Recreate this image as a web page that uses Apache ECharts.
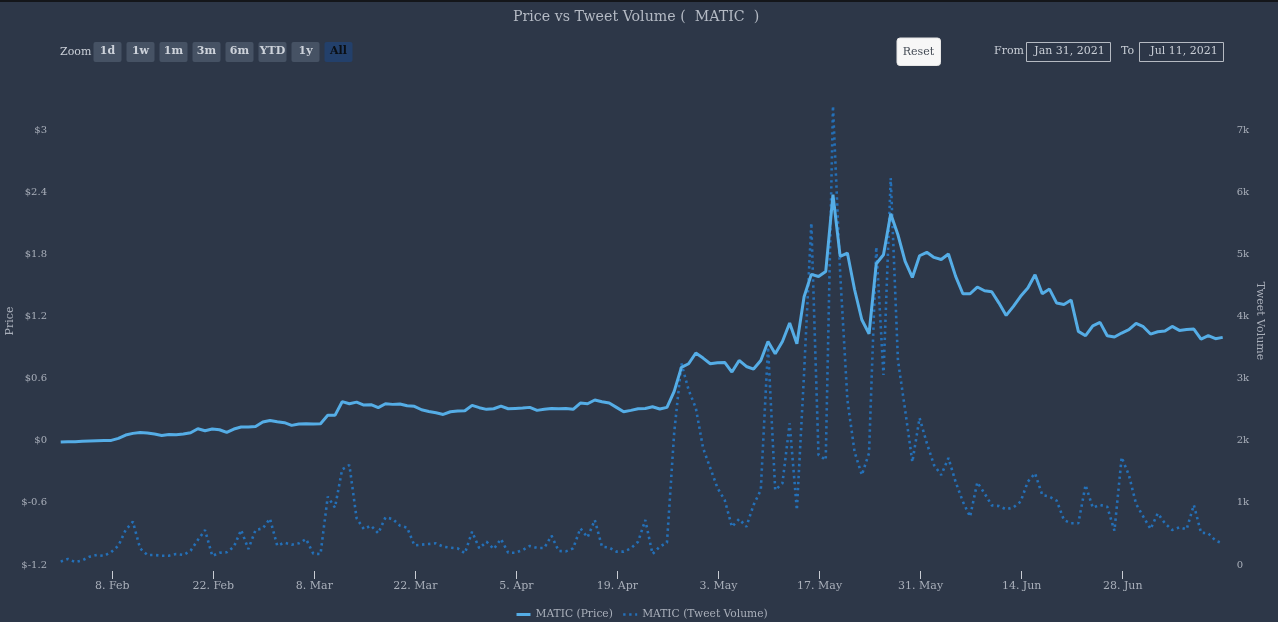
<!DOCTYPE html>
<html>
<head>
<meta charset="utf-8">
<style>
  html, body { margin: 0; padding: 0; background: #2d3748; }
  #chart { width: 1278px; height: 622px; }
</style>
<script src="https://cdn.jsdelivr.net/npm/echarts@6/dist/echarts.min.js"></script>
</head>
<body>
<div id="chart"></div>
<script>
// daily closes, Jan 31 to Jul 11 2021
var priceValues = [
  -0.013, -0.010, -0.010, -0.006, -0.003, 0.000, 0.003, 0.003, 0.023, 0.055,
  0.071, 0.080, 0.074, 0.064, 0.051, 0.061, 0.058, 0.064, 0.077, 0.116,
  0.097, 0.113, 0.106, 0.080, 0.113, 0.132, 0.132, 0.138, 0.180, 0.196,
  0.183, 0.174, 0.148, 0.161, 0.164, 0.161, 0.164, 0.245, 0.245, 0.377,
  0.357, 0.373, 0.344, 0.348, 0.319, 0.357, 0.351, 0.354, 0.338, 0.332,
  0.299, 0.283, 0.270, 0.254, 0.280, 0.286, 0.290, 0.341, 0.319, 0.303,
  0.309, 0.335, 0.309, 0.312, 0.315, 0.322, 0.293, 0.303, 0.312, 0.309,
  0.312, 0.303, 0.364, 0.357, 0.393, 0.377, 0.364, 0.322, 0.280, 0.293,
  0.309, 0.312, 0.328, 0.306, 0.322, 0.476, 0.708, 0.743, 0.847, 0.798,
  0.743, 0.753, 0.756, 0.663, 0.775, 0.717, 0.692, 0.775, 0.958, 0.840,
  0.958, 1.136, 0.936, 1.390, 1.606, 1.586, 1.635, 2.375, 1.780, 1.812,
  1.458, 1.168, 1.033, 1.709, 1.796, 2.192, 1.989, 1.731, 1.577, 1.786,
  1.819, 1.770, 1.750, 1.803, 1.587, 1.419, 1.419, 1.484, 1.448, 1.439,
  1.329, 1.210, 1.297, 1.394, 1.474, 1.603, 1.419, 1.464, 1.329, 1.316,
  1.358, 1.056, 1.014, 1.110, 1.143, 1.014, 1.001, 1.040, 1.072, 1.133,
  1.101, 1.030, 1.052, 1.059, 1.104, 1.065, 1.075, 1.078, 0.982, 1.014,
  0.985, 0.998
];
var tweetValues = [
  54, 97, 48, 75, 134, 161, 145, 209, 311, 563,
  697, 268, 161, 161, 150, 150, 177, 161, 231, 402,
  563, 145, 198, 204, 295, 563, 257, 563, 590, 746,
  311, 359, 327, 349, 418, 182, 177, 1100, 923, 1539,
  1609, 751, 579, 633, 510, 767, 740, 633, 601, 316,
  327, 338, 349, 295, 279, 268, 188, 536, 268, 375,
  257, 418, 198, 198, 241, 306, 274, 274, 472, 225,
  220, 268, 590, 445, 724, 295, 279, 215, 215, 268,
  375, 724, 177, 295, 359, 2124, 3246, 2816, 2527, 1883,
  1561, 1239, 1046, 616, 740, 616, 966, 1207, 3508, 1207,
  1315, 2280, 885, 3090, 5504, 1770, 1690, 7387, 4699, 2655,
  1818, 1448, 1802, 5117, 3058, 6228, 3299, 2494, 1658, 2366,
  1963, 1609, 1448, 1722, 1336, 1019, 778, 1330, 1153, 960,
  949, 896, 928, 1019, 1341, 1475, 1126, 1100, 1035, 724,
  671, 671, 1287, 923, 966, 939, 552, 1733, 1448, 982,
  778, 579, 831, 671, 563, 606, 574, 966, 520, 510,
  392, 349
];
var tickDates = ['2021-02-08', '2021-02-22', '2021-03-08', '2021-03-22', '2021-04-05', '2021-04-19',
  '2021-05-03', '2021-05-17', '2021-05-31', '2021-06-14', '2021-06-28'];
var zoomButtons = ['1d', '1w', '1m', '3m', '6m', 'YTD', '1y', 'All'];
var monthNames = ['Jan', 'Feb', 'Mar', 'Apr', 'May', 'Jun', 'Jul'];

var DAY = 86400000;
var firstPoint = Date.UTC(2021, 0, 31, 20, 30);
var priceData = [], tweetData = [];
for (var i = 0; i < priceValues.length; i++) {
  priceData.push([firstPoint + i * DAY, priceValues[i]]);
  tweetData.push([firstPoint + i * DAY, tweetValues[i]]);
}
var tickTimes = tickDates.map(function (d) { return new Date(d + 'T00:00:00Z').getTime(); });

var SERIF = '"DejaVu Serif", serif';
var LABEL = '#a9afba';
var BTN_TXT = '#cdd2da';

function txt(x, y, s, color, size, weight, align) {
  return { type: 'text', x: x, y: y, silent: true, style: {
    text: s, fill: color, font: (weight || 'normal') + ' ' + (size || 11) + 'px ' + SERIF,
    textAlign: align || 'center', textVerticalAlign: 'middle' } };
}
function box(x, y, w, h, fill, stroke, r) {
  return { type: 'rect', x: x, y: y, silent: true, shape: { width: w, height: h, r: r || 0 },
    style: { fill: fill, stroke: stroke || null, lineWidth: stroke ? 1 : 0 } };
}

var controls = [box(0, 0, 1278, 2, '#14161a')];
controls.push(txt(60, 52, 'Zoom', '#c9ced6', 11, 'normal', 'left'));
zoomButtons.forEach(function (b, n) {
  var x = 93.5 + n * 33;
  var on = b === 'All';
  controls.push(box(x, 42, 28, 20, on ? '#23406b' : '#465264', null, 2));
  controls.push(txt(x + 14, 51.5, b, on ? '#0b0f14' : BTN_TXT, 11, 'bold'));
});
controls.push(box(897, 38, 43.5, 27.5, '#f7f7f7', '#e6e6e6', 3));
controls.push(txt(918.5, 52.5, 'Reset', '#444b55', 11));
controls.push(txt(994, 51.5, 'From', '#c9ced6', 11, 'normal', 'left'));
controls.push(box(1026.5, 42.5, 84, 19, 'transparent', '#b5bac2'));
controls.push(txt(1069.5, 51.5, 'Jan 31, 2021', '#c9ced6', 11));
controls.push(txt(1121, 51.5, 'To', '#c9ced6', 11, 'normal', 'left'));
controls.push(box(1139.5, 42.5, 84, 19, 'transparent', '#b5bac2'));
controls.push(txt(1184, 51.5, 'Jul 11, 2021', '#c9ced6', 11));

// axis titles, the built-in name kept landing against the window edge
var priceName = txt(10, 321, 'Price', LABEL, 11);
priceName.rotation = Math.PI / 2;
var tweetName = txt(1260, 321, 'Tweet Volume', LABEL, 11);
tweetName.rotation = -Math.PI / 2;
controls.push(priceName, tweetName);

var chart = echarts.init(document.getElementById('chart'));
chart.setOption({
  animation: false,
  backgroundColor: '#2d3748',
  textStyle: { fontFamily: SERIF },
  title: {
    text: 'Price vs Tweet Volume (  MATIC  )',
    left: 508, top: 5,
    textStyle: { color: '#b4bac4', fontSize: 14.2, fontWeight: 'normal', fontFamily: SERIF }
  },
  legend: {
    top: 604, left: 510, itemWidth: 14, itemHeight: 3, itemGap: 9,
    itemStyle: { opacity: 0 },
    textStyle: { color: LABEL, fontSize: 10.7, fontFamily: SERIF },
    data: [
      { name: 'MATIC (Price)', lineStyle: { width: 3 } },
      { name: 'MATIC (Tweet Volume)', lineStyle: { width: 2.6 } }
    ]
  },
  grid: { left: 60.7, right: 55.3, top: 67.9, bottom: 57, outerBoundsMode: 'none' },
  xAxis: {
    type: 'value',
    min: priceData[0][0],
    max: priceData[priceData.length - 1][0],
    offset: 6,
    axisLine: { show: false, onZero: false },
    splitLine: { show: false },
    axisTick: { show: true, length: 8, customValues: tickTimes, lineStyle: { color: '#c8ccd3', width: 1 } },
    axisLabel: {
      color: LABEL, fontSize: 11, margin: 9.5, customValues: tickTimes, hideOverlap: false,
      formatter: function (v) {
        var d = new Date(v);
        return d.getUTCDate() + '. ' + monthNames[d.getUTCMonth()];
      }
    }
  },
  yAxis: [
    {
      type: 'value', min: -1.2, max: 3.6, interval: 0.6,
      axisLine: { show: false }, axisTick: { show: false }, splitLine: { show: false },
      axisLabel: {
        color: LABEL, fontSize: 10, margin: 13.7, showMaxLabel: false,
        formatter: function (v) { return '$' + (+v.toFixed(1)); }
      }
    },
    {
      type: 'value', min: 0, max: 8000, interval: 1000, position: 'right',
      axisLine: { show: false }, axisTick: { show: false }, splitLine: { show: false },
      axisLabel: {
        color: LABEL, fontSize: 10, margin: 14, showMaxLabel: false,
        formatter: function (v) { return v === 0 ? '0' : (v / 1000) + 'k'; }
      }
    }
  ],
  series: [
    {
      name: 'MATIC (Tweet Volume)', type: 'line', yAxisIndex: 1, data: tweetData,
      symbol: 'none', z: 2,
      lineStyle: { color: '#2470b8', width: 2.6, type: [2.4, 3.6] },
      itemStyle: { color: '#2470b8' }
    },
    {
      name: 'MATIC (Price)', type: 'line', yAxisIndex: 0, data: priceData,
      symbol: 'none', z: 3,
      lineStyle: { color: '#55ade6', width: 3 },
      itemStyle: { color: '#55ade6' }
    }
  ],
  graphic: controls
});
</script>
</body>
</html>
